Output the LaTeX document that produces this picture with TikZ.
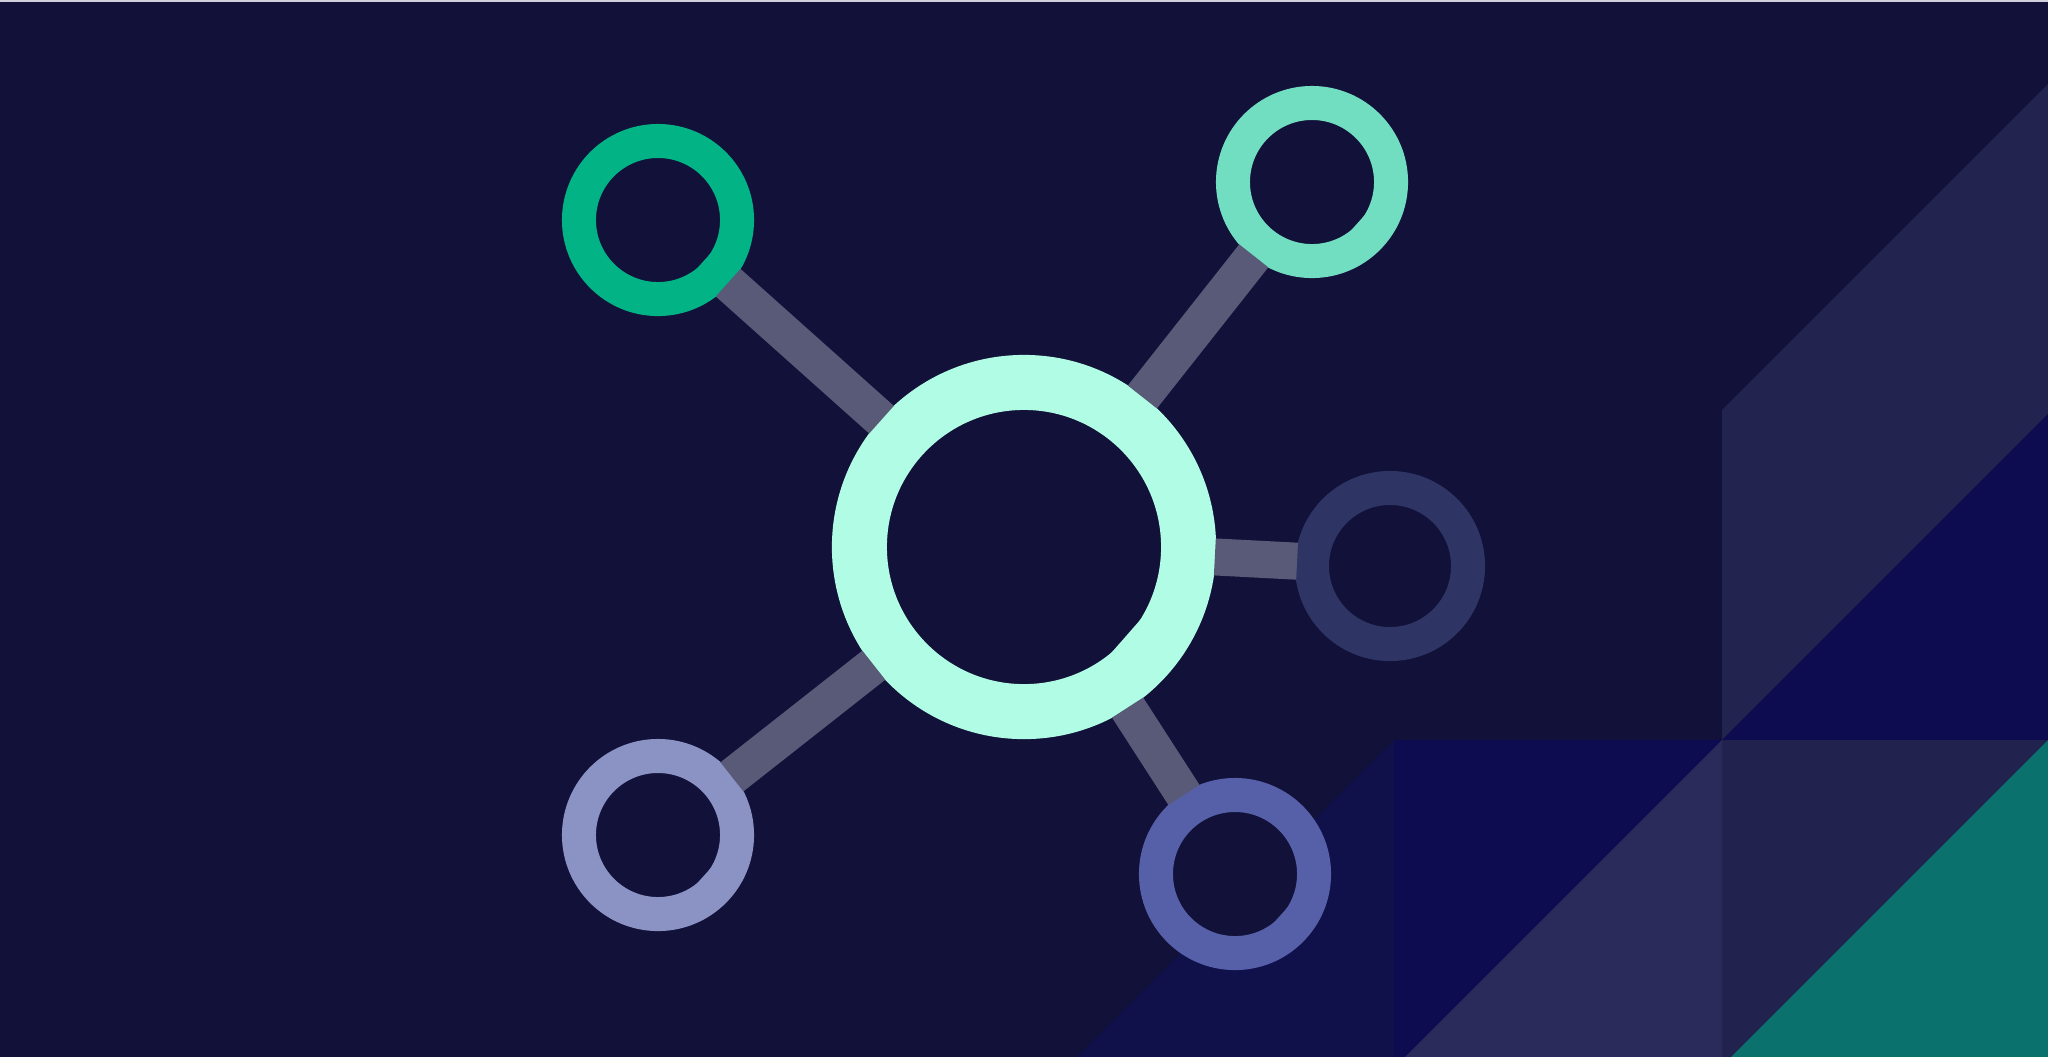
\documentclass[tikz,border=0pt]{standalone}
\usetikzlibrary{calc}
\definecolor{bg}{HTML}{121139}
\definecolor{topline}{HTML}{D0D0DC}
\definecolor{band}{HTML}{232350}
\definecolor{deepblue}{HTML}{0D0C50}
\definecolor{lband}{HTML}{2B2B5B}
\definecolor{lrbase}{HTML}{22224F}
\definecolor{tealtri}{HTML}{0A716C}
\definecolor{trap}{HTML}{10114A}
\definecolor{mint}{HTML}{B0FCE4}
\definecolor{cgreen}{HTML}{02B386}
\definecolor{cteal}{HTML}{72DEC1}
\definecolor{cdark}{HTML}{2E3564}
\definecolor{cperi}{HTML}{8A93C4}
\definecolor{cindigo}{HTML}{5660A8}
\definecolor{connc}{HTML}{585A78}
\begin{document}
\begin{tikzpicture}[x=0.01cm,y=-0.01cm,
  ring/.style={circle, inner sep=0pt, outer sep=0pt, fill=bg, draw=#1, line width=0.34cm, minimum size=1.58cm},
  bigring/.style={circle, inner sep=0pt, outer sep=0pt, fill=bg, draw=mint, line width=0.55cm, minimum size=3.29cm},
  conn/.style={draw=connc, line width=0.37cm, line cap=butt}]
\useasboundingbox (0,0) rectangle (2048,1056);
% background (drawn a little past the page edges)
\fill[bg] (-12,-12) rectangle (2060,1070);
\fill[topline] (-12,-12) rectangle (2060,2);
% geometric shapes bottom right
\fill[band] (1722,410) -- (2060,72) -- (2060,402) -- (1722,740) -- cycle;
\fill[deepblue] (2060,402) -- (2060,740) -- (1722,740) -- cycle;
\fill[lrbase] (1722,740) rectangle (2060,1070);
\fill[tealtri] (2060,728) -- (2060,1070) -- (1718,1070) -- cycle;
\fill[deepblue] (1394,740) rectangle (1722,1070);
\fill[lband] (1722,740) -- (1722,1070) -- (1392,1070) -- cycle;
\fill[trap] (1394,740) -- (1394,1070) -- (1064,1070) -- cycle;
% rings
\node[bigring] (big) at (1024,547) {};
\node[ring=cgreen] (g) at (658,220) {};
\node[ring=cteal] (t) at (1312,182) {};
\node[ring=cdark, minimum size=1.56cm] (d) at (1390,566) {};
\node[ring=cperi] (p) at (658,835) {};
\node[ring=cindigo] (i) at (1235,874) {};
% small flat cuts on the inner holes
\foreach \n/\c in {g/cgreen, t/cteal, d/cdark, p/cperi, i/cindigo} {
  \fill[\c] ($(\n)+(-31:0.625cm)$) arc[start angle=-31, end angle=-53, radius=0.625cm] -- cycle;
}
\fill[mint] ($(big)+(-30:1.38cm)$) arc[start angle=-30, end angle=-52.5, radius=1.38cm] -- cycle;
% connectors
\foreach \n in {g, t, p, i} {
  \draw[conn] ($(\n)!0.94cm!(big)$) -- ($(big)!1.91cm!(\n)$);
}
\draw[conn] ($(d)!0.93cm!(big)$) -- ($(big)!1.91cm!(d)$);
\end{tikzpicture}
\end{document}
